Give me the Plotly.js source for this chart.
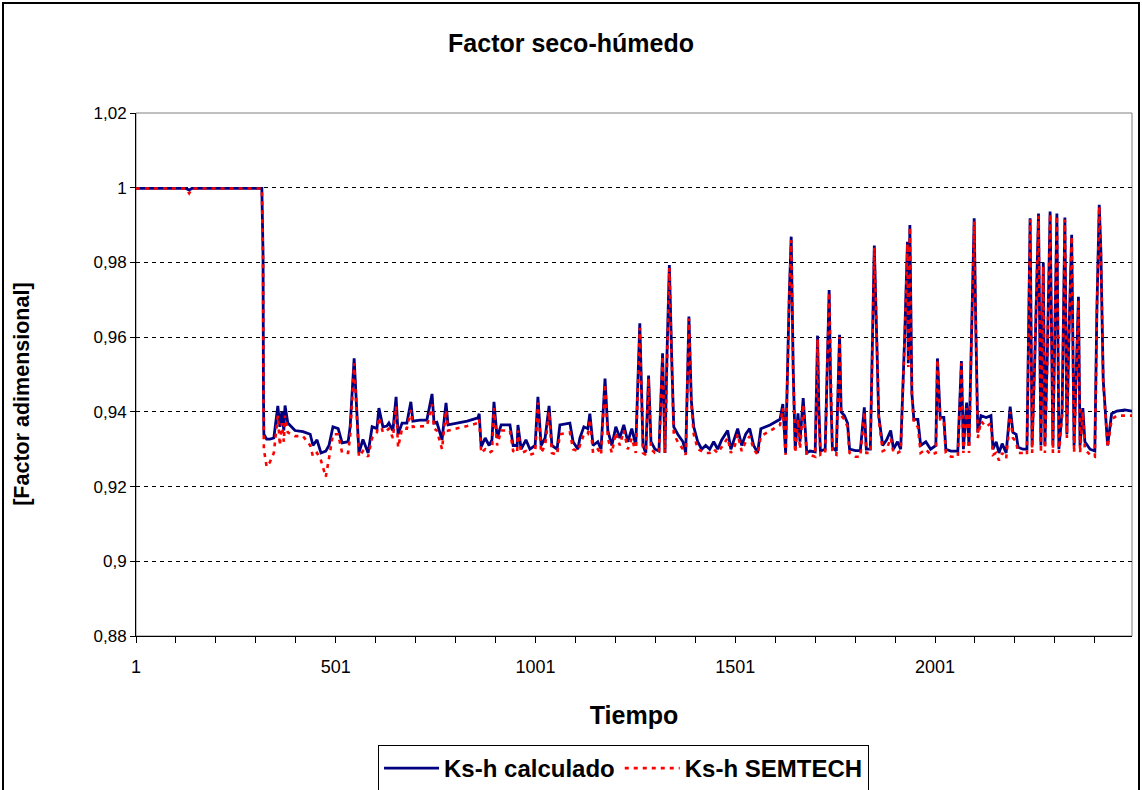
<!DOCTYPE html>
<html>
<head>
<meta charset="utf-8">
<script src="https://cdn.plot.ly/plotly-3.0.1.min.js"></script>
<style>
html,body{margin:0;padding:0;background:#fff;}
#wrap{position:relative;width:1142px;height:790px;overflow:hidden;}
#chart{position:absolute;left:0;top:0;width:1142px;height:790px;}
#frame{position:absolute;left:2px;top:2px;width:1134px;height:800px;border:2px solid #000;pointer-events:none;}
</style>
</head>
<body>
<div id="wrap"><div id="chart"></div><div id="frame"></div></div>
<script>
// Time index (x) of each vertex
const tiempo = [1,54,126,134,141,316,319,320,321,328,336,346,356,361,366,371,374,381,399,419,437,444,454,464,476,484,494,507,517,532,537,547,554,559,569,582,592,604,609,619,629,634,644,652,657,667,679,689,694,712,729,742,747,754,767,777,782,830,857,860,865,875,885,892,897,905,915,937,945,955,957,965,977,987,1000,1007,1015,1025,1035,1042,1055,1062,1087,1095,1107,1112,1122,1132,1137,1145,1157,1165,1175,1182,1192,1202,1212,1222,1232,1242,1252,1262,1270,1277,1284,1290,1300,1310,1319,1325,1330,1336,1342,1347,1357,1370,1377,1385,1391,1397,1407,1417,1427,1437,1447,1457,1467,1482,1490,1500,1507,1517,1527,1537,1547,1557,1565,1588,1613,1620,1627,1636,1641,1646,1651,1658,1663,1671,1680,1688,1701,1707,1710,1714,1726,1736,1740,1744,1754,1762,1766,1774,1782,1787,1802,1814,1824,1829,1839,1849,1856,1860,1870,1880,1890,1897,1907,1915,1925,1932,1934,1938,1943,1948,1958,1965,1978,1990,2003,2007,2014,2023,2028,2041,2058,2067,2072,2080,2086,2093,2099,2103,2108,2116,2129,2141,2146,2154,2161,2169,2179,2184,2189,2196,2204,2209,2221,2231,2239,2244,2251,2260,2266,2272,2276,2282,2289,2296,2300,2306,2311,2319,2326,2331,2336,2343,2349,2354,2360,2364,2371,2376,2389,2401,2406,2412,2416,2422,2428,2433,2443,2456,2476,2494];

// Ks-h calculado
const ksCalculado = [0.9998,0.9998,0.9998,0.9994,0.9998,0.9998,0.982,0.9454,0.934,0.9327,0.9327,0.933,0.9416,0.936,0.940,0.935,0.9417,0.937,0.935,0.9347,0.934,0.931,0.9325,0.929,0.9295,0.931,0.936,0.9355,0.9317,0.932,0.936,0.9543,0.9405,0.929,0.9326,0.929,0.936,0.9355,0.941,0.936,0.9362,0.937,0.935,0.944,0.934,0.937,0.937,0.9427,0.9375,0.9378,0.9378,0.9448,0.937,0.9372,0.9325,0.9424,0.9365,0.9375,0.9384,0.9395,0.9306,0.933,0.931,0.9325,0.9427,0.933,0.9365,0.9365,0.931,0.931,0.9365,0.930,0.9325,0.930,0.931,0.944,0.931,0.933,0.9416,0.931,0.930,0.9365,0.937,0.932,0.930,0.933,0.936,0.9355,0.9395,0.931,0.932,0.930,0.9489,0.935,0.931,0.936,0.933,0.9365,0.932,0.9355,0.931,0.9637,0.931,0.929,0.9497,0.932,0.930,0.9295,0.9557,0.929,0.955,0.9793,0.954,0.936,0.934,0.932,0.929,0.9655,0.943,0.936,0.932,0.930,0.931,0.930,0.932,0.930,0.9325,0.935,0.930,0.933,0.9355,0.931,0.934,0.9355,0.931,0.929,0.9355,0.9365,0.938,0.9421,0.929,0.9708,0.9869,0.9512,0.930,0.9396,0.932,0.9437,0.929,0.9295,0.9293,0.9604,0.9415,0.9295,0.930,0.9726,0.945,0.9305,0.9295,0.9606,0.940,0.939,0.937,0.930,0.9296,0.9296,0.9412,0.930,0.930,0.9845,0.9575,0.939,0.931,0.9325,0.935,0.930,0.932,0.930,0.960,0.9855,0.953,0.990,0.945,0.938,0.938,0.931,0.932,0.930,0.931,0.9543,0.9385,0.9385,0.930,0.9295,0.9295,0.9536,0.930,0.9425,0.931,0.9637,0.9918,0.963,0.9345,0.939,0.9385,0.939,0.930,0.932,0.929,0.9315,0.929,0.935,0.9414,0.9345,0.934,0.9305,0.930,0.930,0.9918,0.931,0.955,0.9931,0.931,0.980,0.931,0.955,0.9936,0.931,0.960,0.9931,0.930,0.940,0.992,0.934,0.960,0.9874,0.931,0.950,0.9708,0.931,0.941,0.932,0.930,0.9295,0.9668,0.9954,0.9833,0.9485,0.9402,0.931,0.9395,0.9402,0.9405,0.9402];

// Ks-h SEMTECH
const ksSemtech = [0.9998,0.9998,0.9998,0.9985,0.9998,0.9998,0.980,0.944,0.930,0.9253,0.9265,0.929,0.939,0.931,0.937,0.932,0.939,0.9345,0.9335,0.9335,0.931,0.928,0.929,0.927,0.9226,0.9275,0.934,0.934,0.929,0.929,0.9335,0.953,0.939,0.928,0.9295,0.928,0.933,0.9345,0.9385,0.9345,0.935,0.9355,0.933,0.9415,0.9305,0.9355,0.9355,0.9405,0.936,0.936,0.9362,0.942,0.9355,0.935,0.930,0.9405,0.935,0.9362,0.937,0.938,0.929,0.930,0.929,0.9295,0.941,0.931,0.935,0.935,0.9295,0.929,0.935,0.929,0.9295,0.9285,0.929,0.9425,0.929,0.931,0.940,0.929,0.9285,0.934,0.9345,0.930,0.9295,0.931,0.934,0.934,0.938,0.929,0.930,0.9285,0.9475,0.933,0.929,0.9345,0.931,0.935,0.930,0.933,0.929,0.9625,0.929,0.9285,0.949,0.930,0.929,0.929,0.955,0.929,0.954,0.9785,0.953,0.934,0.932,0.930,0.9285,0.965,0.942,0.934,0.930,0.9295,0.929,0.929,0.930,0.929,0.9305,0.933,0.929,0.931,0.934,0.9295,0.932,0.9335,0.930,0.9285,0.9335,0.935,0.9365,0.941,0.9285,0.970,0.986,0.950,0.929,0.938,0.930,0.942,0.9285,0.9285,0.928,0.9595,0.940,0.9285,0.929,0.972,0.944,0.929,0.9285,0.960,0.939,0.938,0.936,0.929,0.928,0.928,0.940,0.929,0.929,0.984,0.957,0.938,0.9295,0.930,0.933,0.929,0.929,0.9295,0.9595,0.985,0.952,0.9895,0.944,0.937,0.936,0.929,0.930,0.9285,0.929,0.954,0.937,0.937,0.929,0.928,0.928,0.953,0.929,0.941,0.929,0.963,0.991,0.962,0.933,0.9375,0.936,0.937,0.9285,0.929,0.927,0.929,0.9275,0.933,0.940,0.933,0.932,0.929,0.929,0.9285,0.9915,0.929,0.954,0.9925,0.929,0.979,0.929,0.954,0.993,0.929,0.959,0.9925,0.929,0.939,0.9915,0.933,0.959,0.987,0.929,0.949,0.970,0.929,0.940,0.930,0.9285,0.928,0.966,0.995,0.983,0.948,0.939,0.9305,0.938,0.939,0.939,0.939];

const xTickVals = [1,101,201,301,401,501,601,701,801,901,1001,1101,1201,1301,1401,1501,1601,1701,1801,1901,2001,2101,2201,2301,2401];
const xTickText = ['1','','','','','501','','','','','1001','','','','','1501','','','','','2001','','','',''];
const yTickVals = [0.88,0.90,0.92,0.94,0.96,0.98,1.00,1.02];
const yTickText = ['0,88','0,9','0,92','0,94','0,96','0,98','1','1,02'];

const FONT = 'Liberation Sans, Arial, sans-serif';

const traces = [
  {x: tiempo, y: ksCalculado, type: 'scatter', mode: 'lines', name: 'Ks-h calculado',
   line: {color: '#000080', width: 2.8}},
  {x: tiempo, y: ksSemtech, type: 'scatter', mode: 'lines', name: 'Ks-h SEMTECH',
   line: {color: '#FF0000', width: 2.6, dash: '4px,5px'}}
];

const layout = {
  width: 1142, height: 790,
  margin: {l: 136, r: 10, t: 113, b: 154, autoexpand: false},
  paper_bgcolor: '#fff', plot_bgcolor: '#fff',
  font: {family: FONT, color: '#000', size: 16},
  title: {text: 'Factor seco-húmedo', x: 0.5, xref: 'container', xanchor: 'center',
          y: 1 - 43/790, yref: 'container', yanchor: 'middle',
          font: {family: FONT, size: 25, weight: 'bold', color: '#000'}},
  xaxis: {range: [1, 2494], tickvals: xTickVals, ticktext: xTickText, automargin: false,
          ticks: 'outside', ticklen: 6, tickcolor: '#000', tickwidth: 1,
          showline: true, linecolor: '#000', linewidth: 1, showgrid: false, zeroline: false,
          tickfont: {size: 18}, ticklabelstandoff: 8, fixedrange: true,
          title: {text: 'Tiempo', standoff: 30, font: {size: 25, weight: 'bold'}}},
  yaxis: {range: [0.88, 1.02], tickvals: yTickVals, ticktext: yTickText, automargin: false,
          ticks: 'outside', ticklen: 5, tickcolor: '#000', tickwidth: 1,
          showline: true, linecolor: '#000', linewidth: 1, zeroline: false,
          showgrid: true, gridcolor: '#000', gridwidth: 1, griddash: '4px,4px',
          tickfont: {size: 17}},
  annotations: [{text: '[Factor adimensional]', textangle: -90, showarrow: false,
                 xref: 'paper', yref: 'paper', x: -0.1145, y: 0.463,
                 xanchor: 'center', yanchor: 'middle',
                 font: {size: 21.5, weight: 'bold', color: '#000'}}],
  shapes: [{type: 'rect', xref: 'paper', yref: 'paper', x0: 0, x1: 1, y0: 0, y1: 1,
            line: {color: '#808080', width: 1}, layer: 'below'}],
  showlegend: true,
  legend: {orientation: 'h', x: 0.243, xanchor: 'left', y: -0.2084, yanchor: 'top',
           bordercolor: '#000', borderwidth: 1, bgcolor: '#fff', itemwidth: 55,
           font: {size: 24, weight: 'bold'}, traceorder: 'normal'}
};

Plotly.newPlot('chart', traces, layout, {displayModeBar: false, staticPlot: true});
</script>
</body>
</html>
